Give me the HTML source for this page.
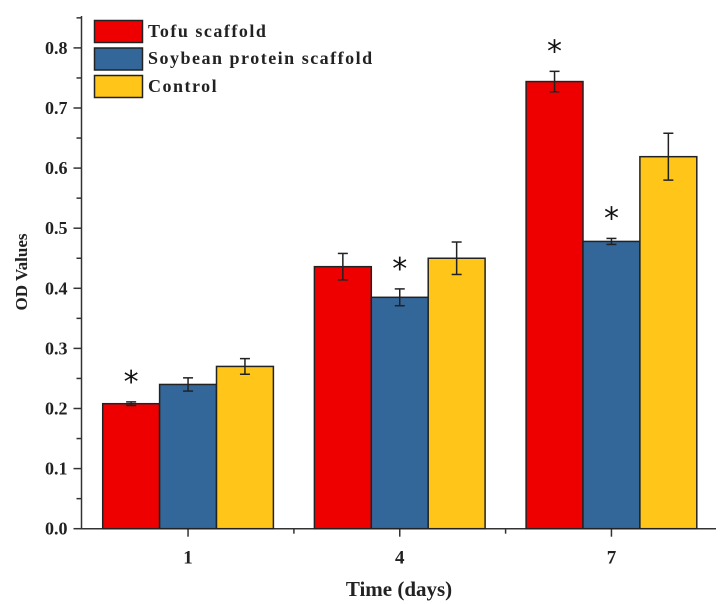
<!DOCTYPE html>
<html><head><meta charset="utf-8"><style>
html,body{margin:0;padding:0;background:#fff;}
svg{display:block;font-family:"Liberation Serif",serif;}
</style></head><body>
<svg id="chart" width="721" height="604">
<g id="axes"></g><g id="bars"></g>
<text x="399" y="596" text-anchor="middle" font-size="21" font-weight="bold" fill="#222">Time (days)</text>
<text transform="translate(27,272) rotate(-90)" text-anchor="middle" font-size="17" font-weight="bold" fill="#222">OD Values</text>
<g font-size="18" font-weight="bold" fill="#222" letter-spacing="1.5">
 <g><rect x="94.5" y="20.5" width="48" height="22" fill="#ee0000" stroke="#222" stroke-width="1.5"/><text x="148" y="37">Tofu scaffold</text></g>
 <g><rect x="94.5" y="48" width="48" height="22" fill="#336699" stroke="#222" stroke-width="1.5"/><text x="148" y="64">Soybean protein scaffold</text></g>
 <g><rect x="94.5" y="75.5" width="48" height="22" fill="#ffc519" stroke="#222" stroke-width="1.5"/><text x="148" y="92">Control</text></g>
</g>
</svg>
<script>
const categories=["1","4","7"];
const tofuValues=[0.208,0.436,0.744];
const tofuErrors=[0.003,0.022,0.017];
const soyValues=[0.240,0.385,0.478];
const soyErrors=[0.011,0.014,0.005];
const controlValues=[0.270,0.450,0.619];
const controlErrors=[0.013,0.027,0.039];
const tofuStar=[true,false,true];
const soyStar=[false,true,true];
const controlStar=[false,false,false];
const yTicks=[0,0.1,0.2,0.3,0.4,0.5,0.6,0.7,0.8];
const yTickLabels=["0.0","0.1","0.2","0.3","0.4","0.5","0.6","0.7","0.8"];

const NS="http://www.w3.org/2000/svg";
const x0=81.5,xEnd=716,baseY=528.7,pxPer=601,axTop=16;
const groupStart=102.7,groupStep=211.7,barW=56.9;
function y(v){return baseY-v*pxPer;}
function gx(i){return groupStart+i*groupStep;}
function mk(tag,attrs,parent){const e=document.createElementNS(NS,tag);for(const k in attrs)e.setAttribute(k,attrs[k]);parent.appendChild(e);return e;}
const axes=document.getElementById('axes'),bars=document.getElementById('bars');

const series=[
 {name:'tofu',vals:tofuValues,errs:tofuErrors,stars:tofuStar,color:'#ee0000'},
 {name:'soy',vals:soyValues,errs:soyErrors,stars:soyStar,color:'#336699'},
 {name:'control',vals:controlValues,errs:controlErrors,stars:controlStar,color:'#ffc519'}];
series.forEach((s,si)=>{
 s.vals.forEach((v,i)=>{
  const bx=gx(i)+si*barW, cx=bx+barW/2;
  const r=mk('rect',{x:bx,y:y(v),width:barW,height:baseY-y(v),fill:s.color,stroke:'#222','stroke-width':1.5},bars);
  
  
  const e=s.errs[i];
  const g=mk('g',{stroke:'#222','stroke-width':1.5},bars);
  
  
  mk('line',{x1:cx,x2:cx,y1:y(v+e),y2:y(v-e)},g);
  mk('line',{x1:cx-5,x2:cx+5,y1:y(v+e),y2:y(v+e)},g);
  mk('line',{x1:cx-5,x2:cx+5,y1:y(v-e),y2:y(v-e)},g);
  if(s.stars[i]){
   const t=mk('text',{x:cx,y:y(v+e)-10,'text-anchor':'middle','font-size':30,'font-family':'"DejaVu Sans",sans-serif',fill:'#111'},bars);
   t.textContent='*';
   
   
  }
 });
});

const ya=mk('line',{x1:x0,x2:x0,y1:axTop,y2:baseY+0.75,stroke:'#333','stroke-width':1.5},axes);

const xa=mk('line',{x1:x0,x2:xEnd,y1:baseY,y2:baseY,stroke:'#333','stroke-width':1.5},axes);

yTicks.forEach((v,i)=>{
 mk('line',{x1:x0-8,x2:x0,y1:y(v),y2:y(v),stroke:'#333','stroke-width':1.5},axes);
 mk('line',{x1:x0-5,x2:x0,y1:y(v+0.05),y2:y(v+0.05),stroke:'#333','stroke-width':1.5},axes);
 const t=mk('text',{x:x0-14,y:y(v)+6,'text-anchor':'end','font-size':18,'font-weight':'bold',fill:'#222'},axes);
 t.textContent=yTickLabels[i];
 
 
});
categories.forEach((c,i)=>{
 const cx=gx(i)+1.5*barW;
 mk('line',{x1:cx,x2:cx,y1:baseY,y2:baseY+8,stroke:'#333','stroke-width':1.5},axes);
 if(i<categories.length-1){const mx=gx(i)+1.5*barW+groupStep/2;mk('line',{x1:mx,x2:mx,y1:baseY,y2:baseY+5,stroke:'#333','stroke-width':1.5},axes);}
 const t=mk('text',{x:cx,y:baseY+35,'text-anchor':'middle','font-size':19,'font-weight':'bold',fill:'#222'},axes);
 t.textContent=c;
 
 
});
</script>
</body></html>
